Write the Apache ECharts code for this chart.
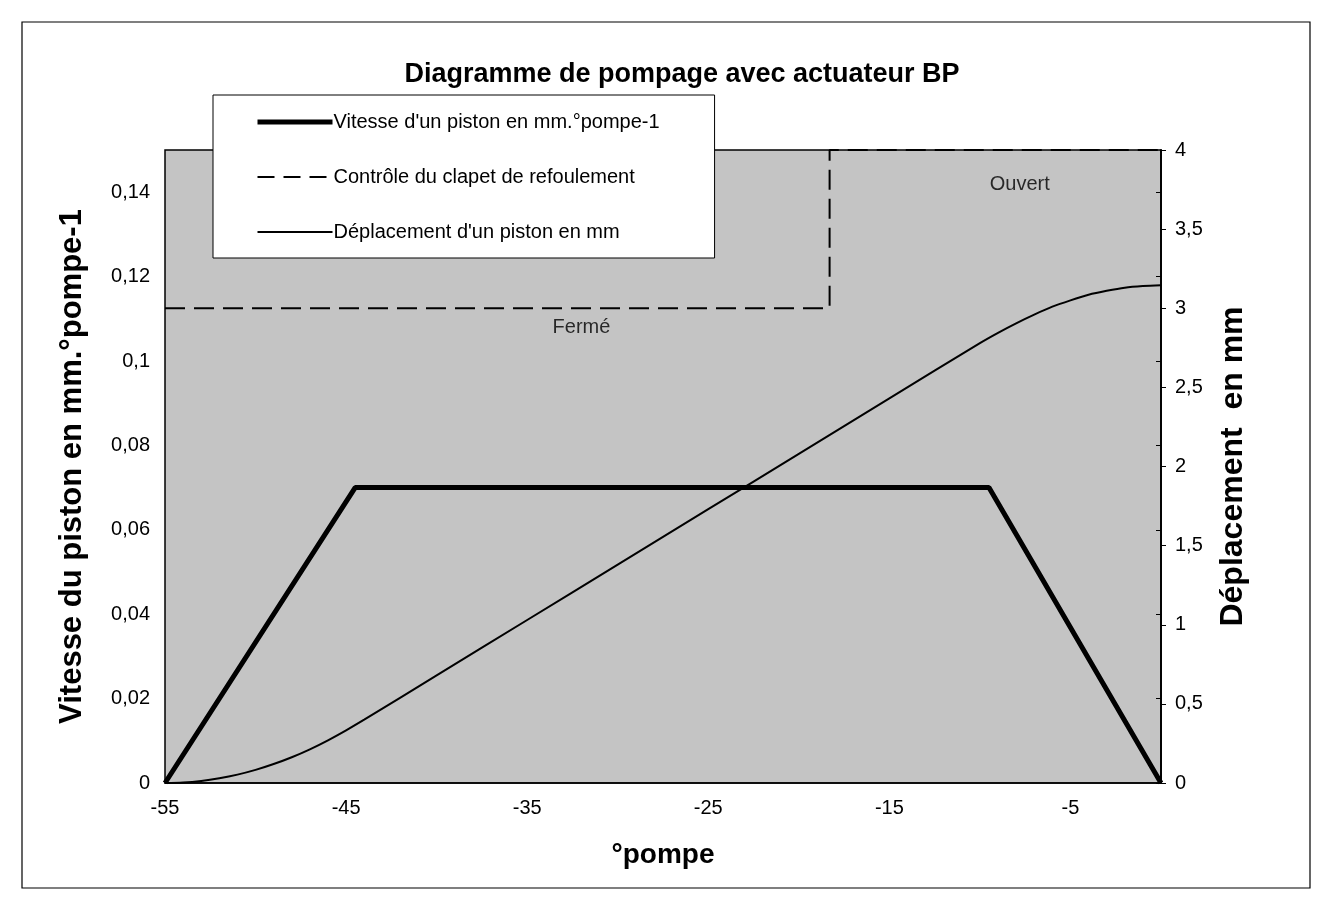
<!DOCTYPE html>
<html>
<head>
<meta charset="utf-8">
<script src="https://cdn.jsdelivr.net/npm/echarts@6/dist/echarts.min.js"></script>
<style>
html,body{margin:0;padding:0;background:#fff;}
#chart{width:1335px;height:916px;}
</style>
</head>
<body>
<div id="chart"></div>
<script>
// ---- Data ----
const title = "Diagramme de pompage avec actuateur BP";
const seriesNames = [
  "Vitesse d'un piston en mm.°pompe-1",
  "Contrôle du clapet de refoulement",
  "Déplacement d'un piston en mm"
];
// Speed of a piston (left axis), [°pompe, mm/°pompe]
const vitesseX = [-55, -44.5, -9.5, 0];
const vitesseY = [0, 0.07, 0.07, 0];
// Discharge valve control (right axis), [°pompe, level]
const controleX = [-55, -18.3, -18.3, 0];
const controleY = [3, 3, 4, 4];
// Piston displacement (right axis), [°pompe, mm]
const deplX = [-55, -54, -53, -52, -51, -50, -49, -48, -47, -46, -45, -44, -40, -35, -30, -25, -20, -15, -10, -9, -8, -7, -6, -5, -4, -3, -2, -1, 0];
const deplY = [0, 0.003, 0.013, 0.03, 0.053, 0.083, 0.12, 0.163, 0.213, 0.27, 0.333, 0.40, 0.68, 1.03, 1.38, 1.73, 2.08, 2.43, 2.78, 2.845, 2.905, 2.96, 3.01, 3.05, 3.085, 3.11, 3.13, 3.14, 3.145];
// Text annotations on the plot (right axis coordinates)
const annotations = [
  { name: "Ouvert", x: -7.8, y: 3.78 },
  { name: "Fermé", x: -32, y: 2.88 }
];
// Axis tick settings
const xMin = -55, xMax = 0, xInterval = 10;
const yLeftMin = 0, yLeftMax = 0.15, yLeftInterval = 0.02;
const yRightMin = 0, yRightMax = 4, yRightInterval = 0.5;
const xName = "°pompe";
const yLeftName = "Vitesse du piston en mm.°pompe-1";
const yRightName = "Déplacement  en mm";

const pairs = (xs, ys) => xs.map((x, i) => [x, ys[i]]);
const comma = v => String(+v.toFixed(4)).replace('.', ',');
const FONT = "'Liberation Sans', Arial, sans-serif";
const lineWidths = [5, 2, 2];
const lineTypes = ['solid', [20, 9], 'solid'];

const chart = echarts.init(document.getElementById('chart'), null, {renderer: 'canvas'});
chart.setOption({
  backgroundColor: '#ffffff',
  animation: false,
  textStyle: { fontFamily: FONT, color: '#000' },
  title: {
    text: title,
    left: 677,
    textAlign: 'center',
    top: 56,
    textStyle: { fontFamily: FONT, fontSize: 27, fontWeight: 'bold', color: '#000' }
  },
  grid: {
    left: 165, right: 174, top: 150, bottom: 133,
    show: true,
    backgroundColor: '#c4c4c4',
    borderColor: '#000',
    borderWidth: 1.5,
    containLabel: false
  },
  legend: {
    orient: 'vertical',
    left: 213,
    top: 95,
    data: seriesNames.map((n, i) => ({
      name: n,
      lineStyle: { width: i === 0 ? 5 : 2, color: '#000', type: i === 1 ? [17, 9] : 'solid' }
    })),
    backgroundColor: '#ffffff',
    borderColor: '#000',
    borderWidth: 1,
    padding: [17, 55, 16, 42],
    itemWidth: 75,
    itemHeight: 20,
    itemGap: 35,
    itemStyle: { opacity: 0 },
    textStyle: { fontFamily: FONT, fontSize: 20, color: '#000', padding: [0, 0, 0, -4] },
    selectedMode: false
  },
  xAxis: {
    type: 'value',
    min: xMin, max: xMax, interval: xInterval,
    name: xName,
    nameLocation: 'middle',
    nameGap: 58,
    nameTextStyle: { fontFamily: FONT, fontSize: 28, fontWeight: 'bold', color: '#000' },
    axisLine: { show: true, onZero: false, lineStyle: { color: '#000', width: 1.5 } },
    axisTick: { show: false },
    splitLine: { show: false },
    axisLabel: { color: '#000', fontSize: 20, margin: 15, showMaxLabel: false, formatter: comma }
  },
  yAxis: [
    {
      type: 'value',
      min: yLeftMin, max: yLeftMax, interval: yLeftInterval,
      name: yLeftName,
      nameLocation: 'middle',
      nameGap: 77,
      nameTextStyle: { fontFamily: FONT, fontSize: 31, fontWeight: 'bold', color: '#000' },
      axisLine: { show: true, lineStyle: { color: '#000', width: 1.5 } },
      axisTick: { show: true, inside: false, length: 5, lineStyle: { color: '#000' } },
      splitLine: { show: false },
      axisLabel: { color: '#000', fontSize: 20, margin: 15, showMaxLabel: false, formatter: comma }
    },
    {
      type: 'value',
      position: 'right',
      min: yRightMin, max: yRightMax, interval: yRightInterval,
      name: yRightName,
      nameLocation: 'middle',
      nameGap: 56,
      nameRotate: 90,
      nameTextStyle: { fontFamily: FONT, fontSize: 32, fontWeight: 'bold', color: '#000' },
      axisLine: { show: true, lineStyle: { color: '#000', width: 1.5 } },
      axisTick: { show: true, inside: false, length: 5, lineStyle: { color: '#000' } },
      splitLine: { show: false },
      axisLabel: { color: '#000', fontSize: 20, margin: 14, formatter: comma }
    }
  ],
  series: [
    {
      name: seriesNames[0],
      type: 'line',
      yAxisIndex: 0,
      data: pairs(vitesseX, vitesseY),
      symbol: 'none',
      lineStyle: { color: '#000', width: lineWidths[0], type: lineTypes[0] },
      itemStyle: { color: '#000' },
      z: 5
    },
    {
      name: seriesNames[1],
      type: 'line',
      yAxisIndex: 1,
      data: pairs(controleX, controleY),
      symbol: 'none',
      lineStyle: { color: '#000', width: lineWidths[1], type: lineTypes[1] },
      itemStyle: { color: '#000' },
      z: 4
    },
    {
      name: seriesNames[2],
      type: 'line',
      yAxisIndex: 1,
      data: pairs(deplX, deplY),
      symbol: 'none',
      smooth: 0.3,
      lineStyle: { color: '#000', width: lineWidths[2], type: lineTypes[2] },
      itemStyle: { color: '#000' },
      z: 4
    },
    {
      name: 'annotations',
      type: 'scatter',
      yAxisIndex: 1,
      symbolSize: 0,
      silent: true,
      data: annotations.map(a => ({ name: a.name, value: [a.x, a.y] })),
      label: {
        show: true,
        position: 'inside',
        formatter: p => p.name,
        fontFamily: FONT,
        fontSize: 20,
        color: '#000'
      }
    }
  ],
  graphic: [
    {
      type: 'rect',
      shape: { x: 22, y: 22, width: 1288, height: 866 },
      style: { fill: 'none', stroke: '#000', lineWidth: 1.2 },
      silent: true,
      z: -1
    }
  ]
});
</script>
</body>
</html>
